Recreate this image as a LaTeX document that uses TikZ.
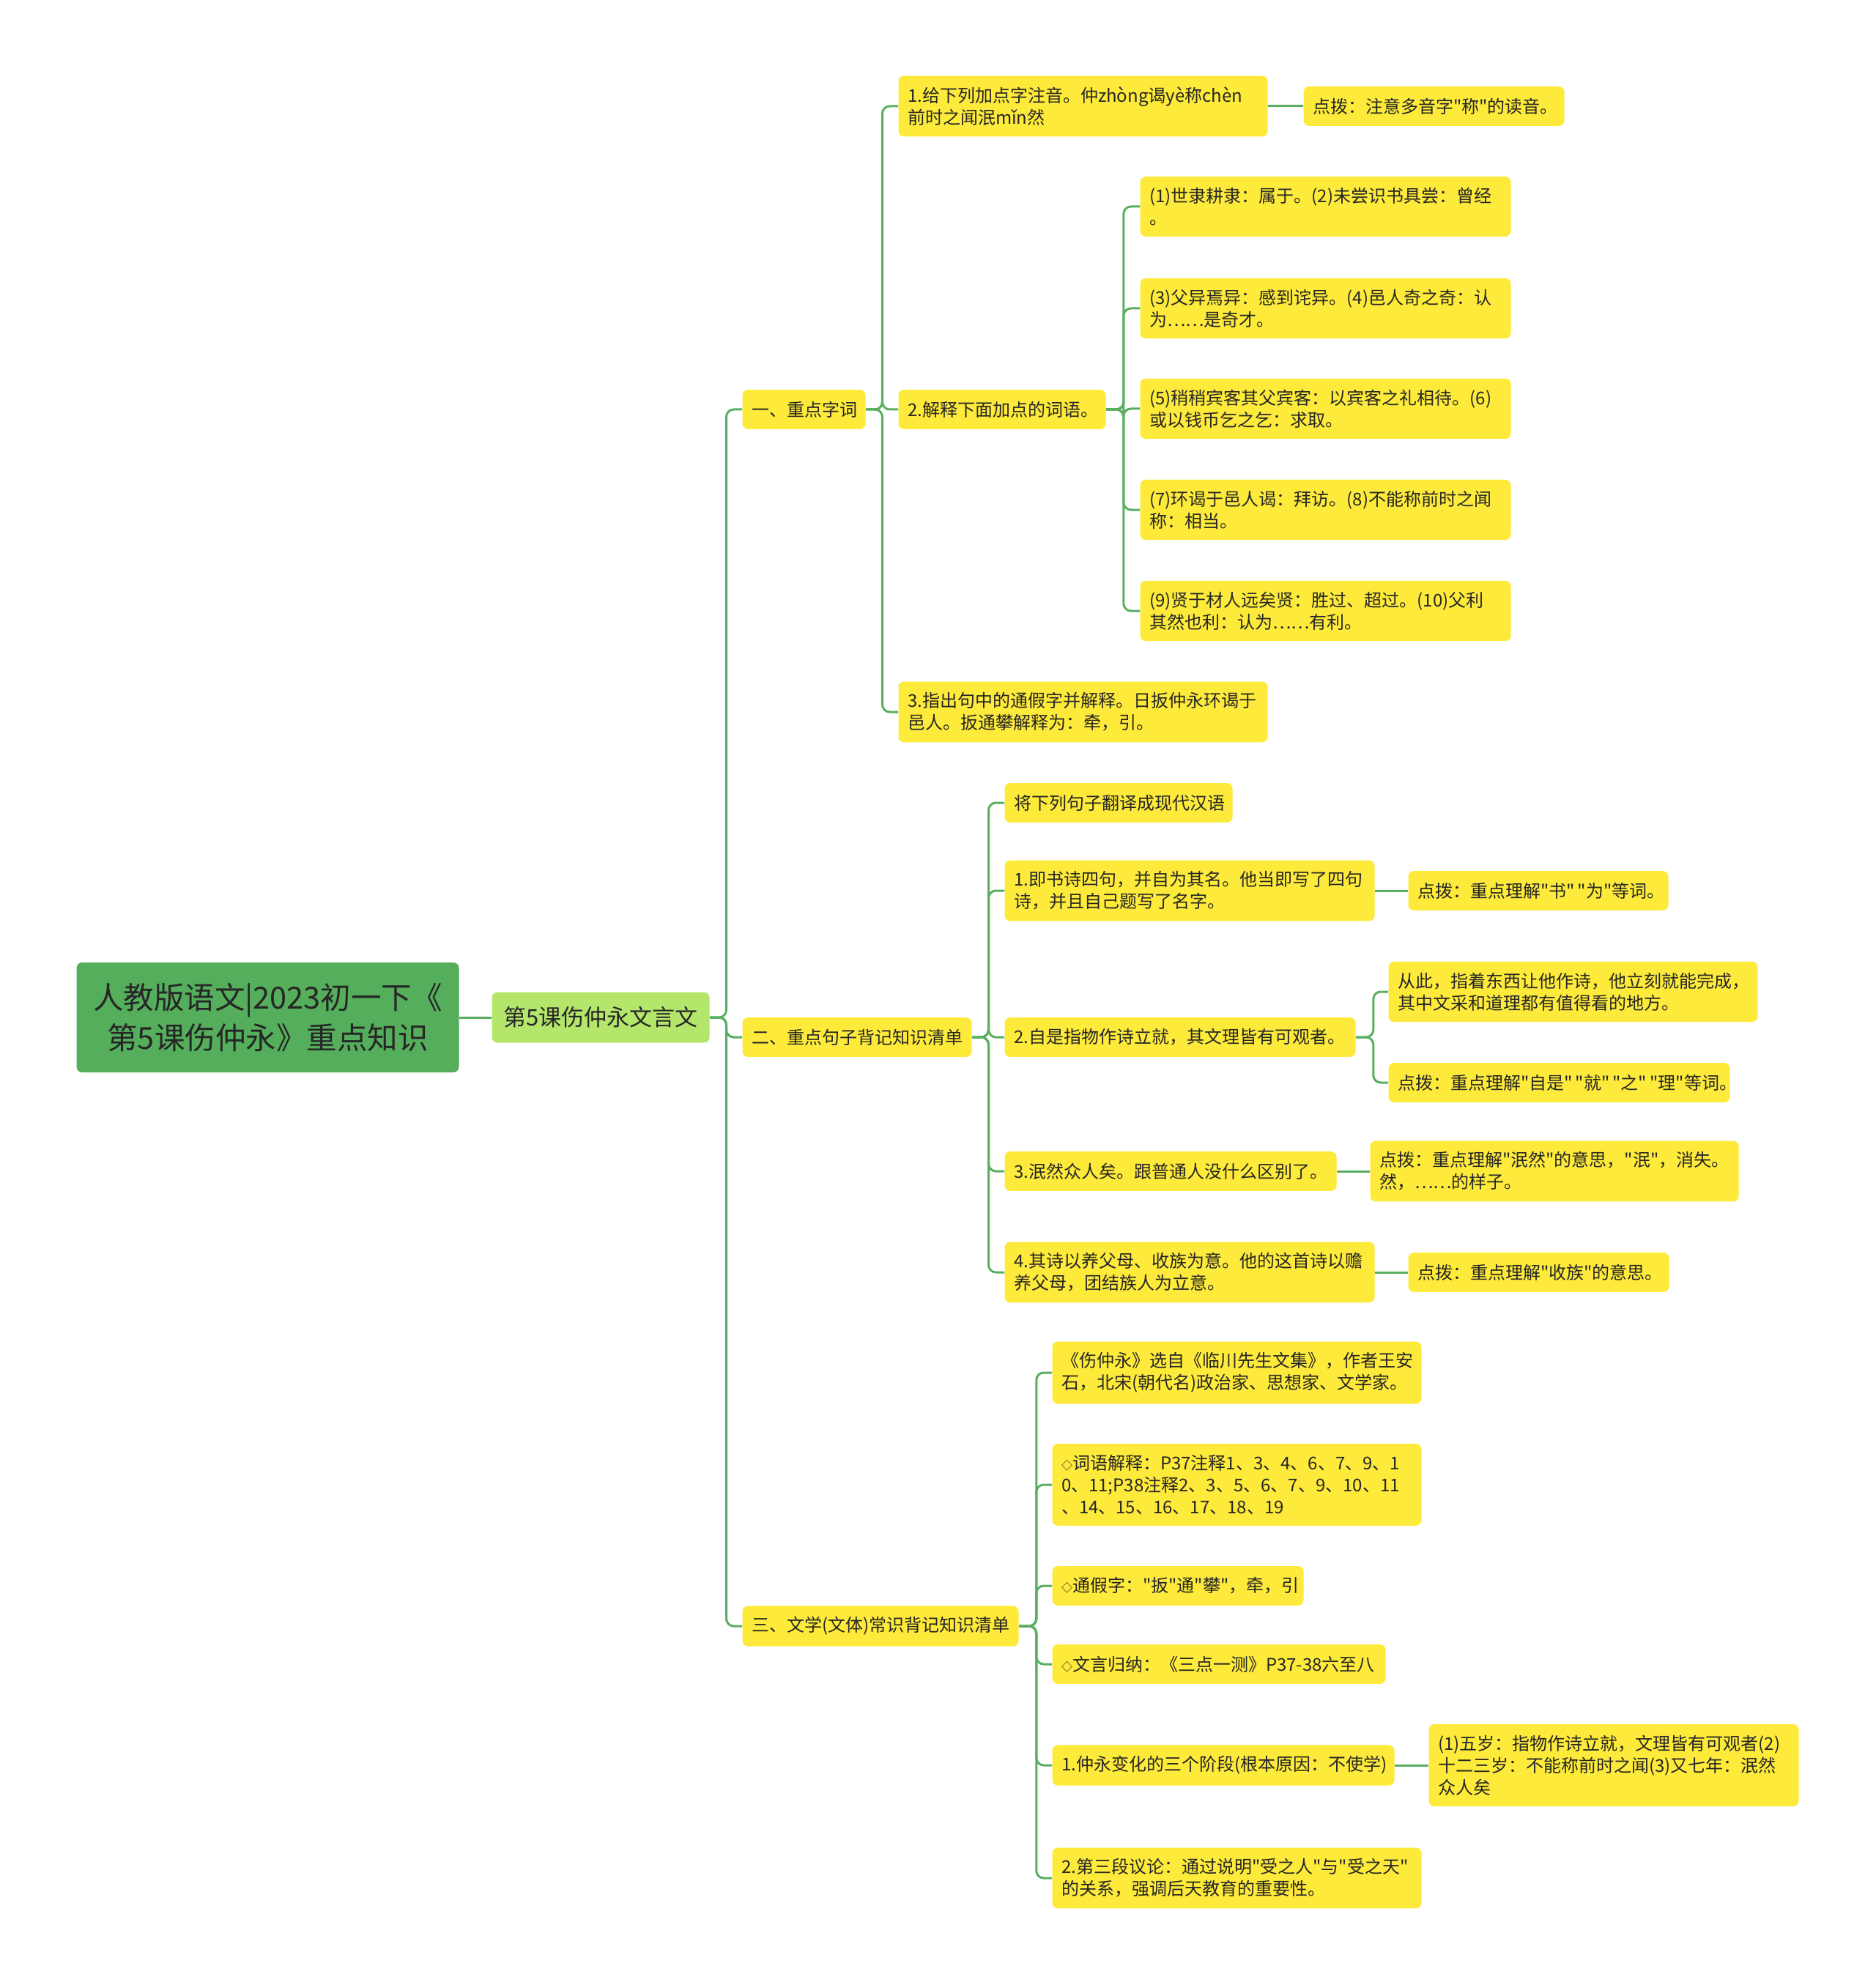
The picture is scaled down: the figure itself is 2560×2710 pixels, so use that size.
\documentclass[tikz,border=0pt]{standalone}
\usepackage{fontspec}
\newfontfamily\cjkfont{Noto Sans CJK SC}
\usepackage{tikz}
\usepackage{xcolor}
\definecolor{rootgreen}{HTML}{55AE5B}
\definecolor{topicgreen}{HTML}{B4E66B}
\definecolor{leafyellow}{HTML}{FDEA3A}
\definecolor{linegreen}{HTML}{5AAE60}
\definecolor{inktext}{HTML}{262626}
\newcommand{\smalldia}{{\fontsize{6pt}{6pt}\selectfont ◇}}

\begin{document}
\begin{tikzpicture}[x=0.4pt,y=-0.4pt]
				\useasboundingbox (0,0) rectangle (2560,2710);
				
				\tikzstyle{rootbox}=[fill=rootgreen, rounded corners=3pt, inner sep=0pt, text width=208.8pt, minimum height=60pt, align=center, anchor=west, text=inktext, font=\cjkfont\fontsize{16.6pt}{22pt}\selectfont]
				\tikzstyle{topicbox}=[fill=topicgreen, rounded corners=3pt, inner sep=0pt, minimum width=118.8pt, minimum height=27.6pt, anchor=west, text=inktext, font=\cjkfont\fontsize{12.4pt}{15pt}\selectfont]
				\tikzstyle{leaf}=[fill=leafyellow, rounded corners=3pt, inner xsep=5pt, inner ysep=6pt, minimum height=21.5pt, align=left, anchor=west, text=inktext, font=\cjkfont\fontsize{9.6pt}{12pt}\selectfont]
				\tikzstyle{link}=[draw=linegreen, line width=1.2pt, rounded corners=4pt]
				
				\node[rootbox] (root) at (104,1389) {人教版语文|2023初一下《\\第5课伤仲永》重点知识};
				\node[topicbox] (topic) at (671,1389) {第5课伤仲永文言文};
				
				\node[leaf, text width=57.2pt] (zici) at (1013,559) {一、重点字词};
				\node[leaf, text width=115.2pt] (juzi) at (1013,1416) {二、重点句子背记知识清单};
				\node[leaf, text width=140.8pt] (changshi) at (1013,2220) {三、文学(文体)常识背记知识清单};
				
				\node[leaf, text width=191.6pt] (z1) at (1226,145) {1.给下列加点字注音。仲zhòng谒yè称chèn\\前时之闻泯mǐn然};
				\node[leaf, text width=132.4pt] (z1t) at (1779,145) {点拨：注意多音字"称"的读音。};
				\node[leaf, text width=103.2pt] (z2) at (1226,559) {2.解释下面加点的词语。};
				\node[leaf, text width=192.4pt] (z2a) at (1556,282) {(1)世隶耕隶：属于。(2)未尝识书具尝：曾经\\。};
				\node[leaf, text width=192.4pt] (z2b) at (1556,421) {(3)父异焉异：感到诧异。(4)邑人奇之奇：认\\为……是奇才。};
				\node[leaf, text width=192.4pt] (z2c) at (1556,558) {(5)稍稍宾客其父宾客：以宾客之礼相待。(6)\\或以钱币乞之乞：求取。};
				\node[leaf, text width=192.4pt] (z2d) at (1556,696) {(7)环谒于邑人谒：拜访。(8)不能称前时之闻\\称：相当。};
				\node[leaf, text width=192.4pt] (z2e) at (1556,834) {(9)贤于材人远矣贤：胜过、超过。(10)父利\\其然也利：认为……有利。};
				\node[leaf, text width=191.6pt] (z3) at (1226,972) {3.指出句中的通假字并解释。日扳仲永环谒于\\邑人。扳通攀解释为：牵，引。};
				
				\node[leaf, text width=114.4pt] (j0) at (1371,1096) {将下列句子翻译成现代汉语};
				\node[leaf, text width=192pt] (j1) at (1371,1216) {1.即书诗四句，并自为其名。他当即写了四句\\诗，并且自己题写了名字。};
				\node[leaf, text width=132pt] (j1t) at (1922,1216) {点拨：重点理解"书"\,"为"等词。};
				\node[leaf, text width=181.6pt] (j2) at (1371,1416) {2.自是指物作诗立就，其文理皆有可观者。};
				\node[leaf, text width=191.6pt] (j2a) at (1895,1354) {从此，指着东西让他作诗，他立刻就能完成，\\其中文采和道理都有值得看的地方。};
				\node[leaf, text width=176.4pt] (j2b) at (1895,1478) {点拨：重点理解"自是"\,"就"\,"之"\,"理"等词。};
				\node[leaf, text width=171.2pt] (j3) at (1371,1599) {3.泯然众人矣。跟普通人没什么区别了。};
				\node[leaf, text width=191.2pt] (j3t) at (1870,1599) {点拨：重点理解"泯然"的意思，"泯"，消失。\\然，……的样子。};
				\node[leaf, text width=192pt] (j4) at (1371,1737) {4.其诗以养父母、收族为意。他的这首诗以赡\\养父母，团结族人为立意。};
				\node[leaf, text width=132.4pt] (j4t) at (1922,1737) {点拨：重点理解"收族"的意思。};
				
				\node[leaf, text width=191.6pt] (c1) at (1436,1874) {《伤仲永》选自《临川先生文集》，作者王安\\石，北宋(朝代名)政治家、思想家、文学家。};
				\node[leaf, text width=191.6pt] (c2) at (1436,2027) {\smalldia 词语解释：P37注释1、3、4、6、7、9、1\\0、11;P38注释2、3、5、6、7、9、10、11\\、14、15、16、17、18、19};
				\node[leaf, text width=127.2pt] (c3) at (1436,2165) {\smalldia 通假字："扳"通"攀"，牵，引};
				\node[leaf, text width=172pt] (c4) at (1436,2272) {\smalldia 文言归纳：《三点一测》P37-38六至八};
				\node[leaf, text width=176.8pt] (c5) at (1436,2410) {1.仲永变化的三个阶段(根本原因：不使学)};
				\node[leaf, text width=192pt] (c5t) at (1950,2410) {(1)五岁：指物作诗立就，文理皆有可观者(2)\\十二三岁：不能称前时之闻(3)又七年：泯然\\众人矣};
				\node[leaf, text width=191.6pt] (c6) at (1436,2564) {2.第三段议论：通过说明"受之人"与"受之天"\\的关系，强调后天教育的重要性。};
				
				\draw[link] (root.east) -- (topic.west);
				\draw[link] (topic.east) -- ++(9pt,0) |- (zici.west);
				\draw[link] (topic.east) -- ++(9pt,0) |- (juzi.west);
				\draw[link] (topic.east) -- ++(9pt,0) |- (changshi.west);
				
				\draw[link] (zici.east) -- ++(9pt,0) |- (z1.west);
				\draw[link] (zici.east) -- ++(9pt,0) |- (z2.west);
				\draw[link] (zici.east) -- ++(9pt,0) |- (z3.west);
				\draw[link] (z1.east) -- (z1t.west);
				\draw[link] (z2.east) -- ++(9.5pt,0) |- (z2a.west);
				\draw[link] (z2.east) -- ++(9.5pt,0) |- (z2b.west);
				\draw[link] (z2.east) -- ++(9.5pt,0) |- (z2c.west);
				\draw[link] (z2.east) -- ++(9.5pt,0) |- (z2d.west);
				\draw[link] (z2.east) -- ++(9.5pt,0) |- (z2e.west);
				
				\draw[link] (juzi.east) -- ++(9pt,0) |- (j0.west);
				\draw[link] (juzi.east) -- ++(9pt,0) |- (j1.west);
				\draw[link] (juzi.east) -- ++(9pt,0) |- (j2.west);
				\draw[link] (juzi.east) -- ++(9pt,0) |- (j3.west);
				\draw[link] (juzi.east) -- ++(9pt,0) |- (j4.west);
				\draw[link] (j1.east) -- (j1t.west);
				\draw[link] (j2.east) -- ++(9.5pt,0) |- (j2a.west);
				\draw[link] (j2.east) -- ++(9.5pt,0) |- (j2b.west);
				\draw[link] (j3.east) -- (j3t.west);
				\draw[link] (j4.east) -- (j4t.west);
				
				\draw[link] (changshi.east) -- ++(9.5pt,0) |- (c1.west);
				\draw[link] (changshi.east) -- ++(9.5pt,0) |- (c2.west);
				\draw[link] (changshi.east) -- ++(9.5pt,0) |- (c3.west);
				\draw[link] (changshi.east) -- ++(9.5pt,0) |- (c4.west);
				\draw[link] (changshi.east) -- ++(9.5pt,0) |- (c5.west);
				\draw[link] (changshi.east) -- ++(9.5pt,0) |- (c6.west);
				\draw[link] (c5.east) -- (c5t.west);
				
			\end{tikzpicture}
\end{document}
